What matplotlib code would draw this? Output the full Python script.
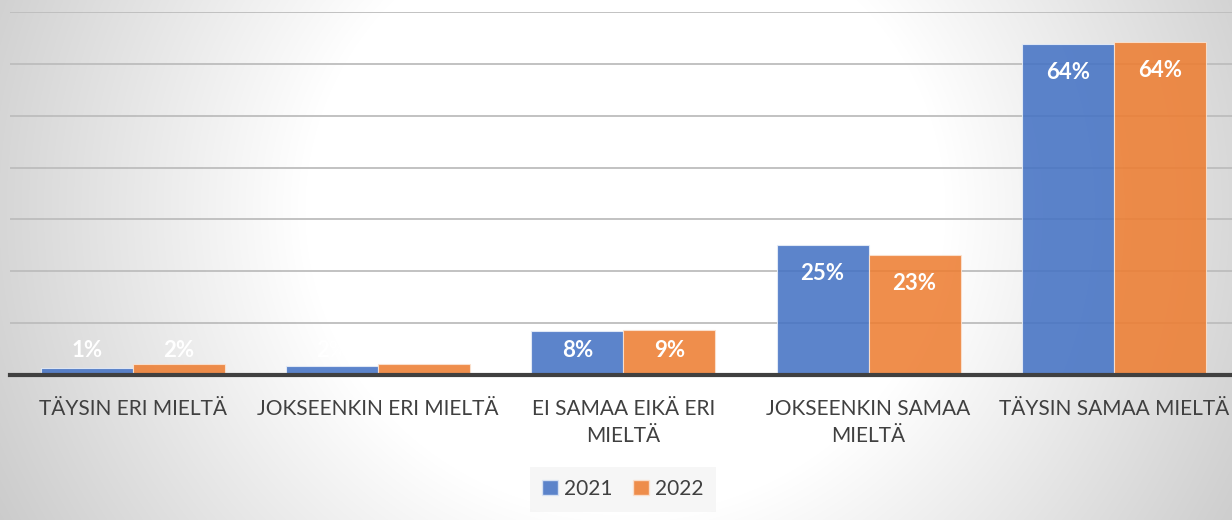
"""
Survey answer distribution 2021 vs 2022 - grouped bar chart on a radial gradient.
"""

import matplotlib
matplotlib.use('Agg')
import matplotlib.pyplot as plt
import numpy as np
from matplotlib.patches import Patch

# Data
categories = [
    'TÄYSIN ERI MIELTÄ',
    'JOKSEENKIN ERI MIELTÄ',
    'EI SAMAA EIKÄ ERI\nMIELTÄ',
    'JOKSEENKIN SAMAA\nMIELTÄ',
    'TÄYSIN SAMAA MIELTÄ',
]
series_names = ['2021', '2022']
values_2021 = [1.4, 1.7, 8.4, 25.0, 63.8]
values_2022 = [2.1, 2.1, 8.6, 23.2, 64.2]

COLORS = ['#4472C4', '#ED7D31']
TEXT_COLOR = '#404040'
FONT = ['Lato', 'DejaVu Sans']

plt.rcParams['font.family'] = FONT

fig = plt.figure(figsize=(12.32, 5.2), dpi=100)

# === Background: radial gradient, white centre fading to grey ===
bg = fig.add_axes([0, 0, 1, 1], zorder=-10)
h, w = 520, 1232
yy, xx = np.mgrid[0:h, 0:w]
dist = np.hypot(xx - 625, (yy - 210) * 1.05)
t = np.clip((dist - 320) / 400, 0, 1)
shade = 1.0 - t * 0.21
bg.imshow(np.dstack([shade] * 3), aspect='auto', extent=[0, 1, 0, 1])
bg.axis('off')

# === Main axes ===
ax = fig.add_axes([10 / 1232, 145 / 520, 1226.5 / 1232, 363 / 520])
ax.patch.set_alpha(0)

x = np.arange(len(categories))
bar_w = 0.375

for i, (name, vals) in enumerate(zip(series_names, [values_2021, values_2022])):
    offset = (i - 0.5) * bar_w
    bars = ax.bar(
        x + offset, vals, width=bar_w,
        color=COLORS[i], alpha=0.87,
        edgecolor='#e8eef8' if i == 0 else '#fbe3d2', linewidth=0.8,
        zorder=3, label=name
    )
    # Data labels: inside end, but never lower than a fixed minimum
    for bar, v in zip(bars, vals):
        ly = max(v - 5.5, 4.8)
        ax.text(
            bar.get_x() + bar.get_width() / 2, ly, f'{v:.0f}%',
            ha='center', va='center', color='white',
            fontsize=16, fontweight='bold', zorder=4
        )

ax.set_xlim(-0.5, 4.5)
ax.set_ylim(0, 70)
ax.set_yticks(np.arange(10, 71, 10))
ax.yaxis.grid(True, color='#bdbdbd', linewidth=1.3, zorder=1)
ax.tick_params(axis='y', left=False, labelleft=False)
ax.axhline(0, color='#404040', linewidth=3, zorder=5, clip_on=False)

ax.set_xticks(x)
ax.set_xticklabels(categories, fontsize=15, color=TEXT_COLOR, linespacing=1.45)
ax.tick_params(axis='x', length=0, pad=17)

for side in ['top', 'right', 'left', 'bottom']:
    ax.spines[side].set_visible(False)

# === Legend ===
handles = [Patch(facecolor=c, alpha=0.87, edgecolor='#dde6f5' if j == 0 else '#fbe3d2')
           for j, c in enumerate(COLORS)]
leg = fig.legend(
    handles, series_names,
    loc='center', bbox_to_anchor=(623 / 1232, 1 - 489 / 520),
    ncol=2, frameon=True, fancybox=False, fontsize=15,
    handlelength=0.75, handleheight=0.75, handletextpad=0.3,
    columnspacing=1.0, borderpad=0.6, labelcolor=TEXT_COLOR
)
leg.get_frame().set_facecolor('#f4f4f4')
leg.get_frame().set_edgecolor('none')
leg.get_frame().set_alpha(0.8)

plt.savefig('out.png', dpi=100)
plt.close()
